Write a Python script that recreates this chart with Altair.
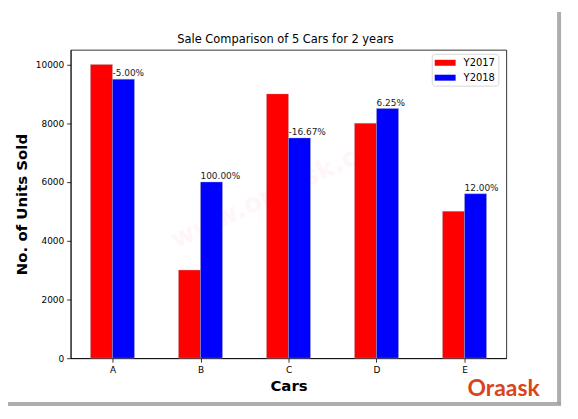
import altair as alt
import pandas as pd

cars = ["A", "B", "C", "D", "E"]
y2017 = [10000, 3000, 9000, 8000, 5000]
y2018 = [9500, 6000, 7500, 8500, 5600]
pct_labels = ["-5.00%", "100.00%", "-16.67%", "6.25%", "12.00%"]
years = ["Y2017", "Y2018"]
colors = ["#ff0000", "#0000ff"]
y_ticks = [0, 2000, 4000, 6000, 8000, 10000]
title_text = "Sale Comparison of 5 Cars for 2 years"

W, H = 438, 310
BW = 0.25

rows = []
for i, c in enumerate(cars):
    for yr, vals, off in ((years[0], y2017, -BW / 2), (years[1], y2018, BW / 2)):
        rows.append({"car": c, "year": yr, "value": vals[i],
                     "x0": i + off - BW / 2, "x1": i + off + BW / 2})
bars_df = pd.DataFrame(rows)
lab_df = pd.DataFrame({"pos": list(range(len(cars))), "value": y2018, "label": pct_labels})

FONT = "DejaVu Sans"
xscale = alt.Scale(domain=[-0.475, len(cars) - 1 + 0.475], nice=False, zero=False)
yscale = alt.Scale(domain=[0, 10500], nice=False)

label_expr = "[" + ",".join("'%s'" % c for c in cars) + "][datum.value]"

bars = alt.Chart(bars_df).mark_bar(stroke="#b0b0b0", strokeWidth=0.4).encode(
    x=alt.X("x0:Q", scale=xscale,
            axis=alt.Axis(values=list(range(len(cars))), labelExpr=label_expr,
                          title="Cars", titleX=W / 2, titleY=27, titleBaseline="middle",
                          titleFontSize=15, titleFontWeight="bold", titleColor="#000",
                          labelFontSize=9, labelPadding=3, tickSize=4)),
    x2="x1:Q",
    y=alt.Y("value:Q", scale=yscale,
            axis=alt.Axis(values=y_ticks, format="d", title="No. of Units Sold",
                          titleX=-49, titleY=H / 2, titleAngle=-90,
                          titleAlign="center", titleBaseline="middle",
                          titleFontSize=15, titleFontWeight="bold", titleColor="#000",
                          labelFontSize=9, labelPadding=3, tickSize=4)),
    y2=alt.datum(0),
    color=alt.Color("year:N", scale=alt.Scale(domain=years, range=colors),
                    legend=alt.Legend(title=None, orient="none", legendX=363, legendY=4,
                                      symbolType="M-1.75,-0.5H1.75V0.5H-1.75Z",
                                      symbolSize=144, symbolOffset=4.5,
                                      symbolStrokeWidth=0, labelFontSize=10, labelFont=FONT,
                                      labelOffset=12.5, rowPadding=4, padding=3,
                                      strokeColor="#d8d8d8", fillColor="white",
                                      cornerRadius=3)),
)

labels = alt.Chart(lab_df).mark_text(align="left", baseline="bottom", dy=-1,
                                     fontSize=9, font=FONT, color="#222").encode(
    x=alt.X("pos:Q", scale=xscale),
    y=alt.Y("value:Q", scale=yscale),
    text="label:N",
)

title = alt.Chart(pd.DataFrame({"t": [title_text]})).mark_text(
    align="center", baseline="middle", fontSize=11.5, font=FONT, color="#000"
).encode(x=alt.value(W / 2 - 3), y=alt.value(-10), text="t:N")

watermark = alt.Chart(pd.DataFrame({"t": ["www.oraask.com"]})).mark_text(
    angle=335, fontSize=26, font=FONT, fontWeight="bold", color="#ff8fa0", opacity=0.07
).encode(x=alt.value(215), y=alt.value(140), text="t:N")

logo = alt.Chart(pd.DataFrame({"t": ["Oraask"]})).mark_text(
    align="left", baseline="middle", fontSize=23, font="Lato", fontWeight="bold",
    color="#d9441c"
).encode(x=alt.value(399), y=alt.value(341), text="t:N")

shadow_r = alt.Chart(pd.DataFrame({"a": [0]})).mark_rule(
    color="#9a9a9a", strokeWidth=4, opacity=0.8
).encode(x=alt.value(491), y=alt.value(-38), y2=alt.value(356))
shadow_b = alt.Chart(pd.DataFrame({"a": [0]})).mark_rule(
    color="#9a9a9a", strokeWidth=4, opacity=0.8
).encode(x=alt.value(-64), x2=alt.value(493), y=alt.value(356))

chart = alt.layer(watermark, bars, labels, title, logo, shadow_r, shadow_b).properties(
    width=W, height=H,
    autosize=alt.AutoSizeParams(type="none"),
    padding={"left": 63, "top": 41, "right": 64, "bottom": 50},
).configure(font=FONT).configure_view(
    stroke="#000", strokeWidth=0.8
).configure_axis(
    grid=False, domainColor="#000", tickColor="#000", labelColor="#000",
    labelFont=FONT, titleFont=FONT, domainWidth=0.8, tickWidth=0.8
)

chart.save("out.html", embed_options={"renderer": "svg", "actions": False})
